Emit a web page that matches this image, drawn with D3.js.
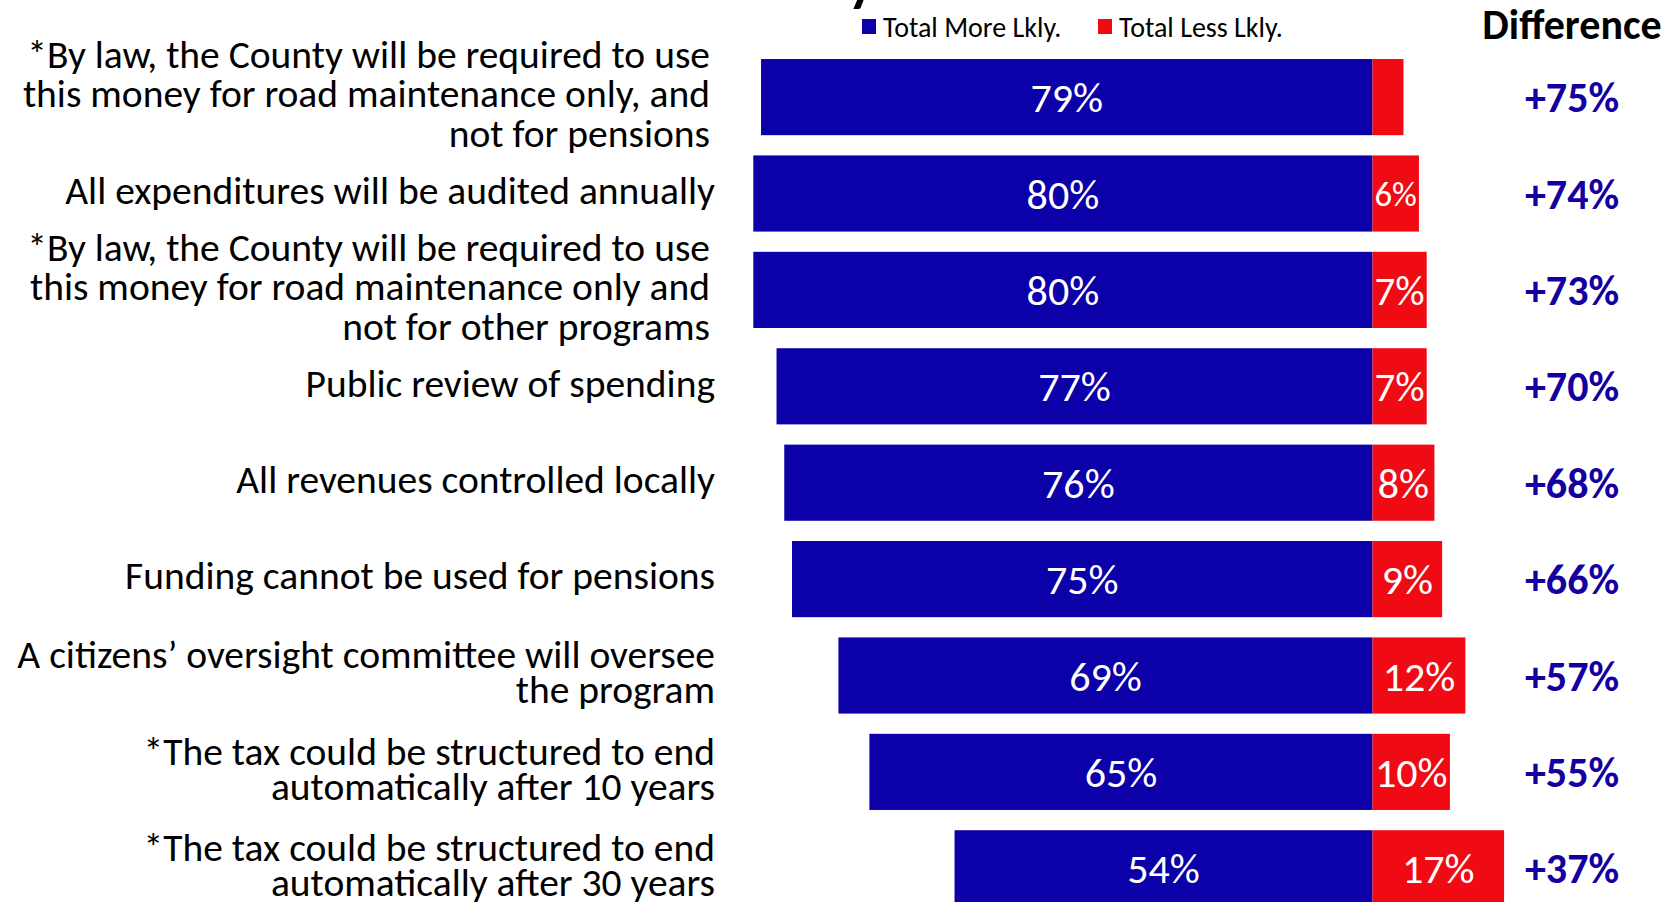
<!DOCTYPE html>
<html>
<head>
  <meta charset="utf-8">
  <script src="https://cdn.jsdelivr.net/npm/d3@7"></script>
  <style>
  body{
    margin:0;
    background:#fff;
  }
  text{
    font-family: Carlito, Calibri, Lato, sans-serif;
  }
  .cat{
    fill:#000;
    font-size:39.5px;
  }
  .val{
    fill:#fff;
  }
  .diff{
    fill:#1400a0;
    font-weight:bold;
    font-size:42px;
  }
  </style>
</head>
<body>
  <svg width="1680" height="902"></svg>
<script>
var categories = [
  ["*By law, the County will be required to use", "this money for road maintenance only, and", "not for pensions"],
  ["All expenditures will be audited annually"],
  ["*By law, the County will be required to use", "this money for road maintenance only and", "not for other programs"],
  ["Public review of spending"],
  ["All revenues controlled locally"],
  ["Funding cannot be used for pensions"],
  ["A citizens\u2019 oversight committee will oversee", "the program"],
  ["*The tax could be structured to end", "automatically after 10 years"],
  ["*The tax could be structured to end", "automatically after 30 years"]
];
var moreLikely = [79, 80, 80, 77, 76, 75, 69, 65, 54];
var lessLikely = [4, 6, 7, 7, 8, 9, 12, 10, 17];
var seriesNames = ["Total More Lkly.", "Total Less Lkly."];
var diffTitle = "Difference";

(function (d3){
  'use strict';
  var svg = d3.select("svg");
  var blue = "#0c00a8", red = "#f00a14";

  var data = categories.map(function(c, i){
    return {key: "c" + i, lines: c, more: moreLikely[i], less: lessLikely[i], diff: moreLikely[i] - lessLikely[i]};
  });

  // zero line sits at 1372.5, one percent ~ 7.74px
  var x = d3.scaleLinear().domain([-100, 40]).range([1372.5 - 774, 1372.5 + 309.6]);
  var y = d3.scaleBand()
      .domain(data.map(function(d){return d.key;}))
      .range([48.9, 48.9 + 9 * 96.4])
      .paddingInner(0.21)
      .paddingOuter(0.105);

  // cut-off title remnant
  svg.append("text")
    .attr("x", 848).attr("y", 0)
    .style("font-size", "56px").style("font-weight", "bold")
    .text("y");

  // legend
  var legend = svg.append("g");
  [[862, blue, seriesNames[0]], [1098, red, seriesNames[1]]].forEach(function(l){
    legend.append("rect").attr("x", l[0]).attr("y", 19).attr("width", 14).attr("height", 15).attr("fill", l[1]);
    legend.append("text").attr("x", l[0] + 21).attr("y", 27).attr("dy", "0.35em")
      .style("font-size", "28px").text(l[2]);
  });

  svg.append("text")
    .attr("x", 1572).attr("y", 24).attr("dy", "0.35em")
    .attr("text-anchor", "middle")
    .style("font-size", "42px").style("font-weight", "bold")
    .text(diffTitle);

  var rows = svg.selectAll(".row").data(data).enter()
    .append("g").attr("class", "row");

  rows.append("rect")
    .attr("x", function(d){return x(-d.more);})
    .attr("y", function(d){return y(d.key);})
    .attr("width", function(d){return x(0) - x(-d.more);})
    .attr("height", y.bandwidth())
    .attr("fill", blue);

  rows.append("rect")
    .attr("x", x(0))
    .attr("y", function(d){return y(d.key);})
    .attr("width", function(d){return x(d.less) - x(0);})
    .attr("height", y.bandwidth())
    .attr("fill", red);

  var base = 42;
  rows.append("text")
    .attr("class", "val")
    .attr("x", function(d){return (x(-d.more) + x(0)) / 2;})
    .attr("y", function(d){return y(d.key) + y.bandwidth() / 2;})
    .attr("dy", "0.36em")
    .attr("text-anchor", "middle")
    .style("font-size", base + "px")
    .text(function(d){return d.more + "%";});

  rows.filter(function(d){return d.less >= 5;}).append("text")
    .attr("class", "val")
    .attr("x", function(d){return (x(d.less) + x(0)) / 2;})
    .attr("y", function(d){return y(d.key) + y.bandwidth() / 2;})
    .attr("dy", "0.36em")
    .attr("text-anchor", "middle")
    .style("font-size", base + "px")
    .text(function(d){return d.less + "%";})
    .each(function(d){
      var w = this.getComputedTextLength(), segW = x(d.less) - x(0) - 4;
      if (w > segW) d3.select(this).style("font-size", (base * segW / w) + "px");
    });

  rows.append("text")
    .attr("class", "diff")
    .attr("x", 1572)
    .attr("y", function(d){return y(d.key) + y.bandwidth() / 2;})
    .attr("dy", "0.36em")
    .attr("text-anchor", "middle")
    .text(function(d){return "+" + d.diff + "%";});

  // category labels, right aligned, centred on the bar
  rows.each(function(d){
    var n = d.lines.length,
        lh = n === 3 ? 39.6 : 35,
        cy = y(d.key) + y.bandwidth() / 2 - 4,
        t = d3.select(this).append("text")
          .attr("class", "cat")
          .attr("text-anchor", "end");
    d.lines.forEach(function(line, i){
      t.append("tspan")
        .attr("x", n === 3 ? 710 : 715)
        .attr("y", cy + (i - (n - 1) / 2) * lh)
        .attr("dy", "0.36em")
        .text(line);
    });
  });
})(window.d3);
</script>
</body>
</html>
